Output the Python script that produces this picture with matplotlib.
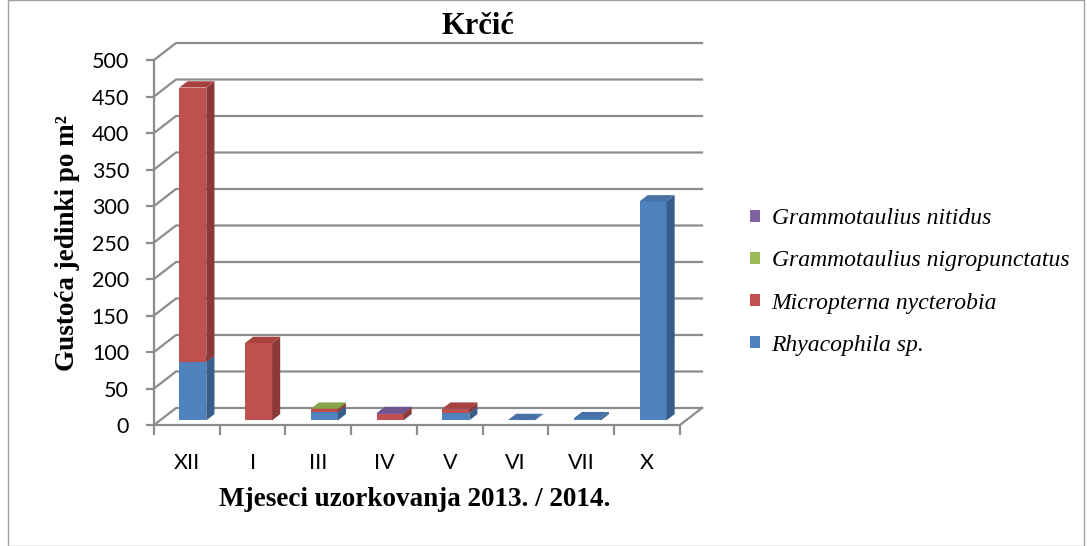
import matplotlib
matplotlib.use("Agg")
import matplotlib.pyplot as plt
from matplotlib.patches import Polygon, Rectangle
import numpy as np

# ====================================================================
# DATA
months = ["XII", "I", "III", "IV", "V", "VI", "VII", "X"]
rhyacophila = [80, 0, 11, 1, 10, 0.5, 3, 300]
micropterna = [376, 106, 4, 8, 6, 0, 0, 0]
g_nigropunctatus = [0, 0, 1, 0, 0, 0, 0, 0]
g_nitidus = [0, 0, 0, 1, 0, 0, 0, 0]

series_names = ["Rhyacophila sp.", "Micropterna nycterobia",
                "Grammotaulius nigropunctatus", "Grammotaulius nitidus"]
series_values = [rhyacophila, micropterna, g_nigropunctatus, g_nitidus]
y_ticks = list(range(0, 501, 50))

# (front, side, top) colours per series
face_colors = [
    ("#4F81BD", "#385D8A", "#4672A8"),
    ("#C0504D", "#8C3836", "#A8423F"),
    ("#9BBB59", "#71893F", "#86A44A"),
    ("#8064A2", "#5C4776", "#6E5590"),
]

# ====================================================================
# LAYOUT (pseudo 3D depth, expressed in data units)
W, H = 1087, 546
DDX = 0.335      # depth offset in category units
DDY = 23.3       # depth offset in value units
D0, D1 = 0.27, 0.64   # bar depth position (fraction of wall depth)
BAR_W = 0.41
GRID = "#8c8c8c"

fig = plt.figure(figsize=(W / 100, H / 100), dpi=100)
ax = fig.add_axes([154 / W, (H - 425) / H, (702 - 154) / W, (425 - 43) / H])
ax.set_xlim(-0.5, len(months) - 0.5 + DDX)
ax.set_ylim(0, 500 + DDY)
ax.patch.set_visible(False)

# back wall + left wall gridlines
for v in y_ticks:
    ax.plot([-0.5, -0.5 + DDX, len(months) - 0.5 + DDX], [v, v + DDY, v + DDY],
            color=GRID, lw=1.6, zorder=1, clip_on=False)
# floor right edge
ax.plot([len(months) - 0.5, len(months) - 0.5 + DDX], [0, DDY],
        color=GRID, lw=1.6, zorder=1, clip_on=False)

# bars
ex, ey = (D1 - D0) * DDX, (D1 - D0) * DDY
for i in range(len(months)):
    x0 = i - BAR_W / 2 + D0 * DDX
    base = D0 * DDY
    bottom = 0.0
    for vals, (cf, cs, ct) in zip(series_values, face_colors):
        v = vals[i]
        if v <= 0:
            continue
        y0, y1 = base + bottom, base + bottom + v
        ax.add_patch(Rectangle((x0, y0), BAR_W, v, facecolor=cf, edgecolor="none", zorder=3))
        ax.add_patch(Polygon([(x0 + BAR_W, y0), (x0 + BAR_W + ex, y0 + ey),
                              (x0 + BAR_W + ex, y1 + ey), (x0 + BAR_W, y1)],
                             closed=True, facecolor=cs, edgecolor="none", zorder=3))
        ax.add_patch(Polygon([(x0, y1), (x0 + BAR_W, y1), (x0 + BAR_W + ex, y1 + ey),
                              (x0 + ex, y1 + ey)],
                             closed=True, facecolor=ct, edgecolor="none", zorder=3))
        bottom += v

# axes, ticks
for s in ["top", "right"]:
    ax.spines[s].set_visible(False)
ax.spines["left"].set_bounds(0, 500)
ax.spines["bottom"].set_bounds(-0.5, len(months) - 0.5)
for s in ["left", "bottom"]:
    ax.spines[s].set_color(GRID)
    ax.spines[s].set_linewidth(1.6)

tick_font = dict(family="Lato", size=15.5)
ax.set_yticks(y_ticks)
ax.set_yticklabels([str(t) for t in y_ticks], **tick_font)
ax.tick_params(axis="y", length=6, width=1.6, color=GRID, pad=12)
ax.set_xticks(np.arange(len(months) + 1) - 0.5)
ax.set_xticklabels([])
ax.tick_params(axis="x", which="major", length=7, width=1.6, color=GRID)
ax.set_xticks(np.arange(len(months)), minor=True)
ax.set_xticklabels(months, minor=True, **tick_font)
ax.tick_params(axis="x", which="minor", length=0, pad=20)

# texts
serif = "Liberation Serif"
fig.text(478 / W, 1 - 27 / H, "Krčić", family=serif, weight="bold", size=22,
         ha="center", va="center")
fig.text(67 / W, 1 - 243 / H, "Gustoća jedinki po m²", family=serif, weight="bold",
         size=19.5, rotation=90, ha="center", va="center")
fig.text(415 / W, 1 - 500 / H, "Mjeseci uzorkovanja 2013. / 2014.", family=serif,
         weight="bold", size=19.5, ha="center", va="center")

# legend (reverse order, like the original)
handles = [Rectangle((0, 0), 1, 1, facecolor=c[0], edgecolor="none") for c in face_colors]
leg = fig.legend(handles[::-1], series_names[::-1], loc="center left",
                 bbox_to_anchor=(729 / W, 1 - 282 / H), frameon=False,
                 prop=dict(family=serif, style="italic", size=17),
                 handlelength=0.4, handleheight=0.4, handletextpad=0.5,
                 labelspacing=0.9)

# outer chart border
fig.add_artist(Rectangle((8 / W, 0), (1084 - 8) / W, 1, transform=fig.transFigure,
                         fill=False, edgecolor="#a0a0a0", lw=1))

fig.savefig("out.png", dpi=100)
